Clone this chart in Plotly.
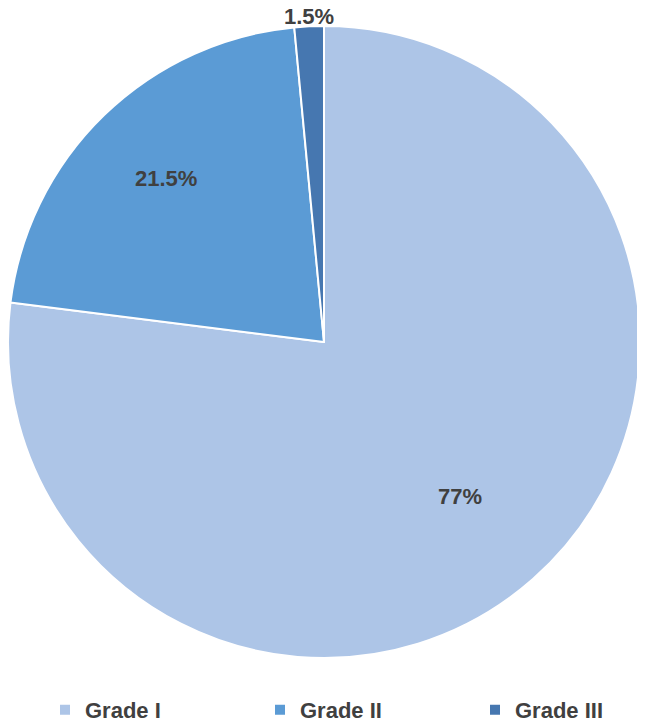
import math

import plotly.graph_objects as go

grades = ["Grade I", "Grade II", "Grade III"]
shares = [77, 21.5, 1.5]
labels_txt = ["77%", "21.5%", "1.5%"]
colores = ["#ADC5E7", "#5B9BD5", "#4677B0"]

# área do gráfico em px (a pizza ocupa só a parte esquerda, o resto é para a legenda)
LARGURA, ALTURA_PLOT = 700, 632
DIAMETRO = 632
# distancia do rótulo ao centro, em fração do raio (estilo tipo Excel)
label_frac = [0.65, 0.72, 1.03]

fig = go.Figure(
    go.Pie(
        labels=grades,
        values=shares,
        textinfo="none",
        sort=False,
        direction="clockwise",
        rotation=0,
        marker=dict(colors=colores, line=dict(color="white", width=2)),
        domain=dict(x=[0, DIAMETRO / LARGURA], y=[0, 1]),
        hoverinfo="label+percent",
    )
)

# rótulos nos ângulos médios de cada fatia
total = sum(shares)
acumulado = 0
raio = DIAMETRO / 2
for valor, texto, frac in zip(shares, labels_txt, label_frac):
    meio = (acumulado + valor / 2) / total * 2 * math.pi
    acumulado += valor
    fig.add_annotation(
        text=texto,
        xref="paper",
        yref="paper",
        x=(raio + frac * raio * math.sin(meio)) / LARGURA,
        y=0.5 + frac * raio * math.cos(meio) / ALTURA_PLOT,
        xanchor="center",
        yanchor="middle",
        showarrow=False,
        font=dict(family="Liberation Sans", size=22, color="#404040", weight="bold"),
    )

fig.update_layout(
    width=LARGURA,
    height=724,
    margin=dict(l=0, r=0, t=18, b=724 - 18 - ALTURA_PLOT),
    paper_bgcolor="white",
    plot_bgcolor="white",
    font=dict(family="Liberation Sans", color="#404040"),
    legend=dict(
        orientation="h",
        x=37 / LARGURA,
        xanchor="left",
        y=-0.0823,
        yanchor="middle",
        entrywidth=170,
        font=dict(size=22, family="Liberation Sans", weight="bold"),
    ),
)

fig.write_html("out.html")
